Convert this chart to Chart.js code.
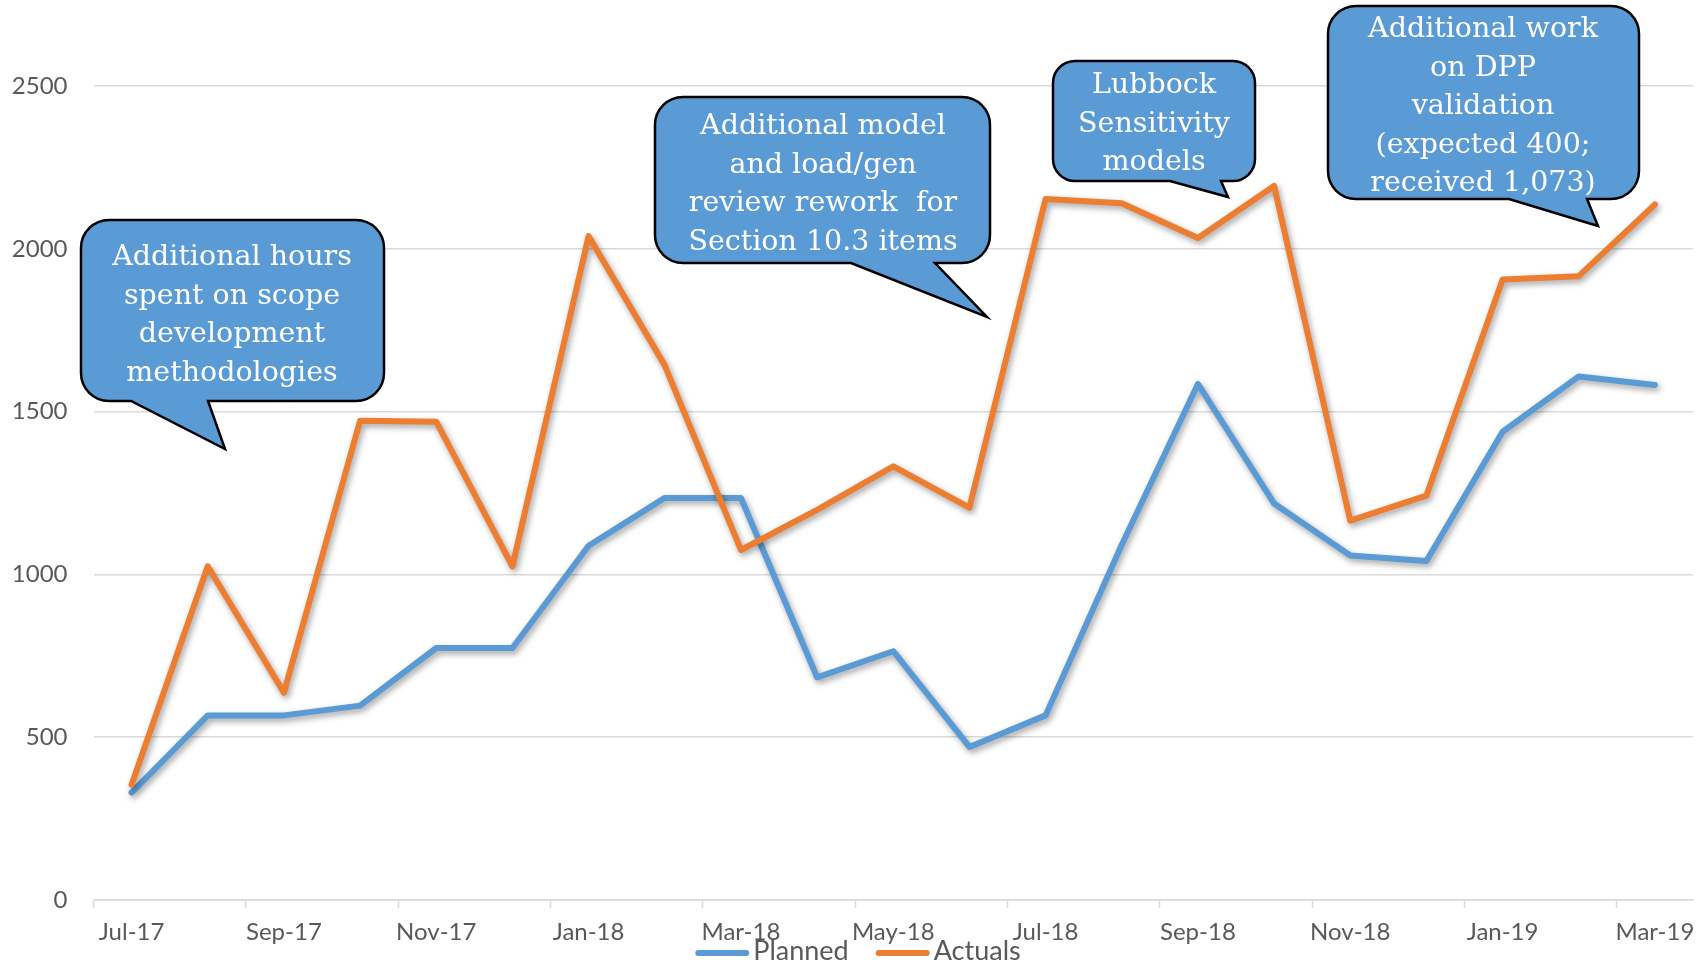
<!DOCTYPE html>
<html>
<head>
<meta charset="utf-8">
<title>Planned vs Actuals hours</title>
<script src="https://cdn.jsdelivr.net/npm/chart.js@4.4.0/dist/chart.umd.min.js"></script>
<style>
  html, body { margin:0; padding:0; background:#fff; }
  #wrap { width:1705px; height:965px; }
</style>
</head>
<body>
<div id="wrap"><canvas id="hoursChart" width="1705" height="965"></canvas></div>
<script>
(function(){
  'use strict';

  // monthly hours
  const months = ['Jul-17','Aug-17','Sep-17','Oct-17','Nov-17','Dec-17','Jan-18','Feb-18','Mar-18','Apr-18',
                  'May-18','Jun-18','Jul-18','Aug-18','Sep-18','Oct-18','Nov-18','Dec-18','Jan-19','Feb-19','Mar-19'];
  const planned = [330, 567, 567, 597, 774, 774, 1088, 1235, 1235, 684,
                   764, 470, 567, 1091, 1585, 1218, 1058, 1041, 1438, 1608, 1582];
  const actuals = [354, 1025, 637, 1472, 1469, 1025, 2039, 1642, 1075, 1198,
                   1332, 1205, 2153, 2140, 2033, 2193, 1165, 1242, 1906, 1916, 2136];
  const seriesNames = ['Planned', 'Actuals'];
  const yTicks = [0, 500, 1000, 1500, 2000, 2500];

  // callout texts
  const noteLines = [
    ['Additional hours', 'spent on scope', 'development', 'methodologies'],
    ['Additional model', 'and load/gen', 'review rework  for', 'Section 10.3 items'],
    ['Lubbock', 'Sensitivity', 'models'],
    ['Additional work', 'on DPP', 'validation', '(expected 400;', 'received 1,073)']
  ];

  // callout geometry on the canvas (px)
  const noteBoxes = [
    { l:81,   t:220, r:384,  b:401, rad:28, tailL:131,  tailR:208,  tipX:225,  tipY:449, cx:232,  y0:265 },
    { l:655,  t:97,  r:990,  b:263, rad:28, tailL:851,  tailR:935,  tipX:987,  tipY:317, cx:823,  y0:134 },
    { l:1053, t:61,  r:1255, b:181, rad:22, tailL:1170, tailR:1221, tipX:1228, tipY:197, cx:1154, y0:93  },
    { l:1328, t:6,   r:1639, b:199, rad:28, tailL:1509, tailR:1587, tipX:1598, tipY:226, cx:1483, y0:37  }
  ];

  const BLUE = '#5b9bd5', ORANGE = '#ed7d31', GRID = '#d9d9d9', TXT = '#595959';
  const SANS = 'Lato, "Open Sans", sans-serif';
  const SLAB = '"DejaVu Serif", serif';

  Chart.defaults.font.family = SANS;
  Chart.defaults.color = TXT;

  function bubble(ctx, b){
    const r = b.rad;
    ctx.beginPath();
    ctx.moveTo(b.l + r, b.t);
    ctx.lineTo(b.r - r, b.t);
    ctx.arcTo(b.r, b.t, b.r, b.t + r, r);
    ctx.lineTo(b.r, b.b - r);
    ctx.arcTo(b.r, b.b, b.r - r, b.b, r);
    ctx.lineTo(b.tailR, b.b);
    ctx.lineTo(b.tipX, b.tipY);
    ctx.lineTo(b.tailL, b.b);
    ctx.lineTo(b.l + r, b.b);
    ctx.arcTo(b.l, b.b, b.l, b.b - r, r);
    ctx.lineTo(b.l, b.t + r);
    ctx.arcTo(b.l, b.t, b.l + r, b.t, r);
    ctx.closePath();
    ctx.fillStyle = BLUE;
    ctx.fill();
    ctx.lineWidth = 2.5;
    ctx.lineJoin = 'miter';
    ctx.strokeStyle = '#000';
    ctx.stroke();
  }

  // soft drop shadow under the series lines
  const lineShadow = {
    id: 'lineShadow',
    beforeDatasetsDraw(chart){
      const c = chart.ctx;
      c.save();
      c.shadowColor = 'rgba(0,0,0,0.38)';
      c.shadowBlur = 6;
      c.shadowOffsetX = 2;
      c.shadowOffsetY = 3;
    },
    afterDatasetsDraw(chart){ chart.ctx.restore(); }
  };

  // callouts + bottom legend
  const overlay = {
    id: 'overlay',
    afterDraw(chart){
      const c = chart.ctx;
      c.save();
      noteBoxes.forEach((b, i) => {
        bubble(c, b);
        c.fillStyle = '#fff';
        c.font = '28.5px ' + SLAB;
        c.textAlign = 'center';
        c.textBaseline = 'alphabetic';
        noteLines[i].forEach((s, k) => c.fillText(s, b.cx, b.y0 + k * 38.5));
      });

      // legend
      c.font = '27px ' + SANS;
      c.textBaseline = 'middle';
      c.textAlign = 'left';
      const sw = 54, gap = 4, itemGap = 27, ly = 951;
      const items = chart.data.datasets.map(d => ({ label: d.label, color: d.borderColor, w: c.measureText(d.label).width }));
      const total = items.reduce((a, it) => a + sw + gap + it.w, 0) + itemGap * (items.length - 1);
      let x = 858 - total / 2;
      items.forEach(it => {
        c.beginPath();
        c.moveTo(x + 3, ly + 2);
        c.lineTo(x + sw - 3, ly + 2);
        c.lineWidth = 6;
        c.lineCap = 'round';
        c.strokeStyle = it.color;
        c.stroke();
        c.fillStyle = TXT;
        c.fillText(it.label, x + sw + gap, ly);
        x += sw + gap + it.w + itemGap;
      });
      c.restore();
    }
  };

  const ctx = document.getElementById('hoursChart');
  new Chart(ctx, {
    type: 'line',
    data: {
      labels: months,
      datasets: [
        { label: seriesNames[0], data: planned, borderColor: BLUE, backgroundColor: BLUE, order: 1 },
        { label: seriesNames[1], data: actuals, borderColor: ORANGE, backgroundColor: ORANGE, order: 0 }
      ]
    },
    options: {
      responsive: false,
      animation: false,
      devicePixelRatio: 1,
      layout: { padding: { top: 86, right: 12, bottom: 18, left: 0 } },
      elements: {
        line: { borderWidth: 6, tension: 0, borderCapStyle: 'round', borderJoinStyle: 'round', fill: false },
        point: { radius: 0, hoverRadius: 0 }
      },
      plugins: { legend: { display: false }, tooltip: { enabled: false } },
      scales: {
        x: {
          offset: true,
          afterFit: s => { s.height = 47; },
          grid: {
            offset: true,
            drawOnChartArea: false,
            drawTicks: true,
            tickLength: 8,
            tickWidth: 1.5,
            tickColor: c => (c.index % 2 === 0 ? GRID : 'rgba(0,0,0,0)')
          },
          border: { color: GRID, width: 1.5 },
          ticks: {
            autoSkip: false,
            maxRotation: 0,
            padding: 10,
            color: TXT,
            font: { size: 24 },
            callback: (v, i) => (i % 2 === 0 ? months[i] : '')
          }
        },
        y: {
          min: 0,
          max: 2500,
          afterFit: s => { s.width = 93.5; },
          afterBuildTicks: s => { s.ticks = yTicks.map(v => ({ value: v })); },
          grid: { color: GRID, lineWidth: 1.5, drawTicks: false },
          border: { display: false },
          ticks: { padding: 26, color: TXT, font: { size: 24 }, callback: v => String(v) }
        }
      }
    },
    plugins: [lineShadow, overlay]
  });
})();
</script>
</body>
</html>
